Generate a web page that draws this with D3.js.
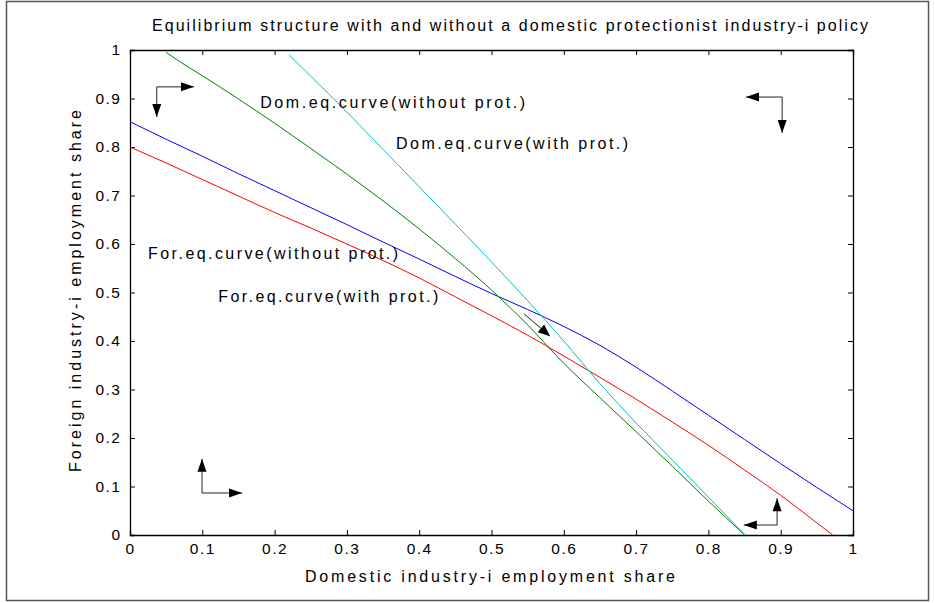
<!DOCTYPE html>
<html><head><meta charset="utf-8">
<script src="https://cdn.jsdelivr.net/npm/d3@7"></script>
<style>body{margin:0;background:#fff}svg{display:block}text{font-family:"Liberation Sans",Arial,sans-serif;fill:#000}</style>
</head><body>
<script>
// ---- data ----
const forNoProtX = [0,0.05,0.1,0.15,0.2,0.25,0.3,0.35,0.4,0.45,0.5,0.55,0.6,0.65,0.7,0.75,0.8,0.85,0.9,0.95,1.0];
const forNoProtY = [0.852,0.816,0.781,0.745,0.710,0.675,0.640,0.604,0.569,0.533,0.498,0.465,0.430,0.391,0.346,0.297,0.247,0.197,0.147,0.098,0.050];
const forProtX = [0,0.05,0.1,0.15,0.2,0.25,0.3,0.35,0.4,0.45,0.5,0.55,0.6,0.65,0.7,0.75,0.8,0.85,0.9,0.95,0.972];
const forProtY = [0.800,0.767,0.733,0.699,0.665,0.633,0.600,0.566,0.530,0.491,0.452,0.412,0.369,0.325,0.280,0.233,0.185,0.134,0.082,0.025,0.0];
const domNoProtX = [0.05,0.07,0.1,0.15,0.2,0.25,0.3,0.35,0.4,0.45,0.5,0.55,0.6,0.65,0.7,0.75,0.8,0.85];
const domNoProtY = [0.995,0.975,0.947,0.899,0.849,0.797,0.744,0.689,0.631,0.570,0.505,0.433,0.354,0.283,0.213,0.142,0.070,0.0];
const domProtX = [0.22,0.25,0.3,0.35,0.4,0.45,0.5,0.55,0.6,0.65,0.7,0.75,0.8,0.851];
const domProtY = [0.99,0.946,0.872,0.795,0.718,0.641,0.563,0.483,0.400,0.312,0.231,0.155,0.078,0.0];
const xTicks = [0,0.1,0.2,0.3,0.4,0.5,0.6,0.7,0.8,0.9,1];
const yTicks = [0,0.1,0.2,0.3,0.4,0.5,0.6,0.7,0.8,0.9,1];
const titleText = "Equilibrium structure with and without a domestic protectionist industry-i policy";
const xLabelText = "Domestic industry-i employment share";
const yLabelText = "Foreign industry-i employment share";
// annotation labels: [text, x, y(baseline) in data units]
const labelTexts = ["Dom.eq.curve(without prot.)","Dom.eq.curve(with prot.)","For.eq.curve(without prot.)","For.eq.curve(with prot.)"];
const labelX = [0.180, 0.368, 0.025, 0.122];
const labelY = [0.880, 0.795, 0.570, 0.481];
// direction arrows: corner point and tips (data units)
const cornerArrows = [
  {cx:0.037, cy:0.924, hx:0.0885, vy:0.862},
  {cx:0.902, cy:0.903, hx:0.852, vy:0.829},
  {cx:0.0996, cy:0.0866, hx:0.155, vy:0.157},
  {cx:0.895, cy:0.0206, hx:0.849, vy:0.076}
];
const diagArrow = {x1:0.545, y1:0.456, x2:0.581, y2:0.410};

// ---- layout ----
const W=935,H=603;
const L=130,R=853,T=50,B=535;
const svg=d3.select("body").append("svg").attr("width",W).attr("height",H);
svg.append("rect").attr("x",6.5).attr("y",1.5).attr("width",922).attr("height",599)
  .attr("fill","#fff").attr("stroke","#555").attr("stroke-width",1.5);

const x=d3.scaleLinear().domain([0,1]).range([L,R]);
const y=d3.scaleLinear().domain([0,1]).range([B,T]);

// axes (ticks inside, MATLAB box)
const axBottom=svg.append("g").attr("transform",`translate(0,${B})`).call(d3.axisBottom(x).tickValues(xTicks).tickSize(-5).tickPadding(8).tickFormat(d3.format("")));
const axTop=svg.append("g").attr("transform",`translate(0,${T})`).call(d3.axisTop(x).tickValues(xTicks).tickSize(-5).tickFormat(""));
const axLeft=svg.append("g").attr("transform",`translate(${L},0)`).call(d3.axisLeft(y).tickValues(yTicks).tickSize(-5).tickPadding(10).tickFormat(d3.format("")));
const axRight=svg.append("g").attr("transform",`translate(${R},0)`).call(d3.axisRight(y).tickValues(yTicks).tickSize(-5).tickFormat(""));
[axBottom,axTop,axLeft,axRight].forEach(g=>{
  g.select(".domain").attr("stroke","#000").attr("stroke-width",1.3);
  g.selectAll(".tick line").attr("stroke","#000");
  g.selectAll("text").style("font-size","15.5px").style("letter-spacing","1.5px").attr("fill","#000");
});
axBottom.selectAll("text").attr("dy","0.71em");
axLeft.selectAll("text").attr("dx","1.5px");

// curves
const line=d3.line().x(d=>x(d[0])).y(d=>y(d[1])).curve(d3.curveMonotoneX);
const series=[
  [forNoProtX,forNoProtY,"#0000ff"],
  [forProtX,forProtY,"#ff0000"],
  [domNoProtX,domNoProtY,"#008000"],
  [domProtX,domProtY,"#00bfbf"]
];
series.forEach(([xs,ys,c])=>{
  svg.append("path").datum(xs.map((v,i)=>[v,ys[i]])).attr("d",line)
    .attr("fill","none").attr("stroke",c).attr("stroke-width",1);
});

// arrows
function head(x1,y1,x2,y2,len,hw){
  const a=Math.atan2(y2-y1,x2-x1);
  const bx=x2-len*Math.cos(a), by=y2-len*Math.sin(a);
  const px=-Math.sin(a)*hw, py=Math.cos(a)*hw;
  svg.append("path").attr("d",`M${x2},${y2}L${bx+px},${by+py}L${bx-px},${by-py}Z`).attr("fill","#000");
}
cornerArrows.forEach(a=>{
  const cx=x(a.cx),cy=y(a.cy),hx=x(a.hx),vy=y(a.vy);
  svg.append("path").attr("d",`M${hx},${cy}L${cx},${cy}L${cx},${vy}`).attr("fill","none").attr("stroke","#222").attr("stroke-width",1);
  head(cx,cy,hx,cy,13,4.5);
  head(cx,cy,cx,vy,13,4.5);
});
svg.append("line").attr("x1",x(diagArrow.x1)).attr("y1",y(diagArrow.y1)).attr("x2",x(diagArrow.x2)).attr("y2",y(diagArrow.y2)).attr("stroke","#222");
head(x(diagArrow.x1),y(diagArrow.y1),x(diagArrow.x2),y(diagArrow.y2),12,5);

// annotation labels
const labelLens=[265,232,250,220];
labelTexts.forEach((t,i)=>{
  svg.append("text").attr("x",x(labelX[i])).attr("y",y(labelY[i])).text(t)
    .style("font-size","16px").attr("textLength",labelLens[i]).attr("lengthAdjust","spacing");
});

// title and axis labels
svg.append("text").attr("x",510).attr("y",31).attr("text-anchor","middle").text(titleText)
  .style("font-size","16px").attr("textLength",716).attr("lengthAdjust","spacing");
svg.append("text").attr("x",490).attr("y",582).attr("text-anchor","middle").text(xLabelText)
  .style("font-size","16px").attr("textLength",370).attr("lengthAdjust","spacing");
svg.append("text").attr("transform","translate(81,291) rotate(-90)").attr("text-anchor","middle").text(yLabelText)
  .style("font-size","16px").attr("textLength",362).attr("lengthAdjust","spacing");
</script>
</body></html>
